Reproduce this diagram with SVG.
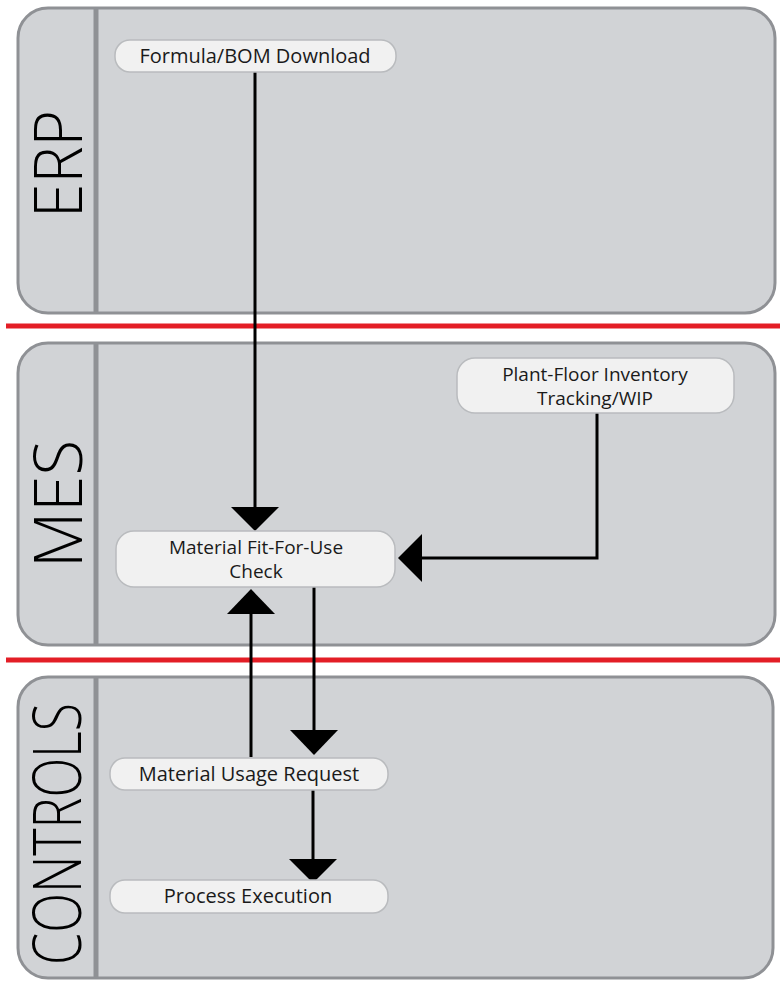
<svg xmlns="http://www.w3.org/2000/svg" width="780" height="981" viewBox="0 0 780 981">
<defs>
<style>
.panel{fill:#d1d3d6;stroke:#8f9195;stroke-width:3}
.div{stroke:#8f9195;stroke-width:5}
.red{stroke:#e31e26;stroke-width:5}
.lane{font-family:"Open Sans","Liberation Sans",sans-serif;font-weight:350;font-size:66px;fill:#000;text-anchor:middle}
.node rect{fill:#f1f1f1;stroke:#b9bbbe;stroke-width:1.5}
.node text{font-family:"Open Sans","Liberation Sans",sans-serif;font-size:20px;fill:#1a1a1a;text-anchor:middle}
.node text.two{font-size:19px}
.conn{stroke:#000;stroke-width:3;fill:none}
.head{fill:#000}
</style>
</defs>
<rect width="780" height="981" fill="#fff"/>
<g id="lanes">
<rect class="panel" x="18" y="8" width="757" height="305" rx="30"/>
<line class="div" x1="96" y1="9" x2="96" y2="312"/>
<text class="lane" transform="translate(82,164) rotate(-90)" textLength="108" lengthAdjust="spacingAndGlyphs">ERP</text>
<rect class="panel" x="18" y="343" width="757" height="302" rx="30"/>
<line class="div" x1="96" y1="344" x2="96" y2="644"/>
<text class="lane" transform="translate(82,504) rotate(-90)" textLength="128" lengthAdjust="spacingAndGlyphs">MES</text>
<rect class="panel" x="18" y="677" width="755" height="301" rx="30"/>
<line class="div" x1="96" y1="678" x2="96" y2="977"/>
<text class="lane" transform="translate(81,834) rotate(-90)" textLength="262" lengthAdjust="spacingAndGlyphs">CONTROLS</text>
<line class="red" x1="6" y1="326" x2="780" y2="326"/>
<line class="red" x1="6" y1="660" x2="780" y2="660"/>
</g>
<g id="connectors">
<line class="conn" x1="255" y1="72" x2="255" y2="508"/>
<polygon class="head" points="231,507 279,507 255,531"/>
<polyline class="conn" points="597,413 597,558 420,558"/>
<polygon class="head" points="422,534 422,582 398,558"/>
<line class="conn" x1="251" y1="757" x2="251" y2="612"/>
<polygon class="head" points="227,614 275,614 251,589"/>
<line class="conn" x1="314" y1="587" x2="314" y2="732"/>
<polygon class="head" points="290,730 338,730 314,755"/>
<line class="conn" x1="313" y1="790" x2="313" y2="862"/>
<polygon class="head" points="289,859 337,859 313,883"/>
</g>
<g id="n-formula" class="node">
<rect x="115" y="40" width="281" height="32" rx="15"/>
<text x="255" y="63">Formula/BOM Download</text>
</g>
<g id="n-plant" class="node">
<rect x="457" y="358" width="277" height="55" rx="18"/>
<text class="two" x="595" y="381">Plant-Floor Inventory</text>
<text class="two" x="595" y="405">Tracking/WIP</text>
</g>
<g id="n-fit" class="node">
<rect x="116" y="531" width="279" height="56" rx="18"/>
<text class="two" x="256" y="554">Material Fit-For-Use</text>
<text class="two" x="256" y="578">Check</text>
</g>
<g id="n-usage" class="node">
<rect x="110" y="758" width="278" height="32" rx="15"/>
<text x="249" y="781">Material Usage Request</text>
</g>
<g id="n-exec" class="node">
<rect x="110" y="880" width="278" height="33" rx="15"/>
<text x="248" y="903">Process Execution</text>
</g>
</svg>
